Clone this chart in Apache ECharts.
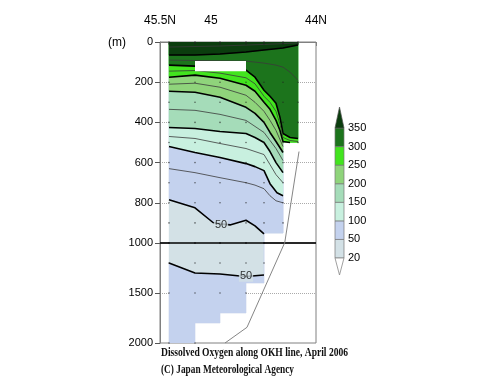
<!DOCTYPE html>
<html><head><meta charset="utf-8">
<script src="https://cdn.jsdelivr.net/npm/echarts@6/dist/echarts.min.js"></script>
<style>html,body{margin:0;padding:0;background:#fff}#c{width:500px;height:387px}</style>
</head><body><div id="c"></div>
<script>
// ---------------- DATA ----------------
// station positions along the OKH line (distance units on the x axis) and their deepest data (m)
const stationX = [9, 35, 60, 86, 104, 123, 138];
const stationBottom = [2000, 2000, 1800, 1700, 1400, 950, 500];
// observation depths shown as dots (m)
const sampleDepths = [0, 5, 10, 200, 300, 400, 500, 600, 700, 800, 900, 1000, 1200, 1500, 2000];
// latitude labels on the top axis
const latTickX = [9, 51, 156];
const latLabelX = [0, 51, 156];
const latLabels = ['45.5N', '45', '44N'];
// colour levels (micromol/kg)
const levels = [20, 50, 100, 150, 200, 250, 300, 350];
const bandColors = ['#d3e1e6', '#c4d2ee', '#c8f0df', '#a5dcb9', '#8fd47b', '#42e41e', '#1c741c', '#0b3d0e'];
// contour traces read from the section: [x, depth m]
const c375 = [[9,25],[60,20],[104,12],[138,5]];
const c350 = [[9,65],[35,65],[60,60],[86,50],[104,40],[123,30],[138,15]];
const c325 = [[9,90],[35,92],[86,95],[104,105],[116,115],[123,125],[130,150],[138,190]];
const c300 = [[9,115],[35,120],[60,130],[86,140],[95,175],[104,240],[110,270],[116,305],[120,375],[123,455],[130,475],[138,480]];
const c275 = [[9,145],[35,142],[60,155],[86,178],[95,208],[104,270],[110,300],[116,345],[120,410],[123,475],[130,490],[138,495]];
const c250 = [[9,175],[35,165],[60,180],[86,215],[95,245],[104,300],[110,335],[116,390],[120,440],[123,495],[130,500]];
const c225 = [[9,210],[35,205],[60,225],[86,265],[95,300],[104,345],[110,390],[116,440],[123,520]];
const c200 = [[9,245],[35,250],[60,275],[86,325],[95,355],[104,400],[110,450],[116,495],[123,550]];
const c175 = [[9,335],[35,340],[60,360],[86,390],[95,420],[104,450],[110,490],[116,530],[123,590]];
const c150 = [[9,425],[35,430],[60,445],[86,455],[95,475],[104,500],[110,545],[116,600],[123,650]];
const c125 = [[9,470],[35,480],[60,505],[86,530],[95,545],[104,560],[110,610],[116,660],[123,700]];
const c100 = [[9,520],[35,550],[60,575],[86,605],[95,620],[104,640],[110,705],[117,750],[123,765]];
const c75  = [[9,630],[35,650],[60,675],[86,700],[95,712],[104,730],[110,765],[116,790],[123,800]];
const c50  = [[9,785],[35,825],[53,898],[60,905],[70,910],[86,887],[95,915],[104,955]];
const c50deep = [[9,1200],[35,1300],[60,1310],[80,1330],[86,1335],[104,1320]];
// missing-data box [x1, x2, depth1, depth2]
const gapBox = [35, 86, 95, 145];
// bottom topography line [x, depth]
const topoLine = [[139,545],[125,990],[87,1843],[65,2000]];
// contour labels [x, depth, text]
const contourLabels = [[61, 912, '50'], [86, 1332, '50']];

// ---------------- GEOMETRY (derived) ----------------
const fillContours = [c50, c100, c150, c200, c250, c300, c350]; // region above -> bandColors[1..7]
const thickLines = [c350, c300, c250, c200, c150, c100, c50, c50deep];
const thinLines = [c375, c325, c275, c225, c175, c125, c75];

function fnOf(pts) {
  return x => {
    if (!pts) return Infinity;
    const n = pts.length;
    if (x < pts[0][0] - 1e-9 || x > pts[n-1][0] + 1e-9) return Infinity;
    for (let i = 0; i < n - 1; i++) {
      const [x1,d1] = pts[i], [x2,d2] = pts[i+1];
      if (x >= x1 - 1e-9 && x <= x2 + 1e-9) {
        const t = x2 === x1 ? 0 : (x - x1) / (x2 - x1);
        return d1 + Math.max(0, Math.min(1, t)) * (d2 - d1);
      }
    }
    return Infinity;
  };
}
function colXs(pts, xa, xb, B) {
  const xs = [xa, xb];
  if (pts) {
    pts.forEach(p => { if (p[0] > xa && p[0] < xb) xs.push(p[0]); });
    const last = pts[pts.length-1][0];
    if (last >= xa && last < xb) xs.push(last + 1e-6);
    for (let i = 0; i < pts.length - 1; i++) {
      const [x1,d1] = pts[i], [x2,d2] = pts[i+1];
      if ((d1 - B) * (d2 - B) < 0) {
        const x = x1 + (B - d1) / (d2 - d1) * (x2 - x1);
        if (x > xa && x < xb) xs.push(x);
      }
    }
  }
  return [...new Set(xs)].sort((a,b) => a - b);
}
// boundary (left -> right) of min(contour, column bottom) across all columns
function clampedEdge(pts) {
  const f = fnOf(pts), out = [];
  for (let c = 0; c < stationX.length - 1; c++) {
    const xa = stationX[c], xb = stationX[c+1];
    const B = Math.min(stationBottom[c], stationBottom[c+1]);
    colXs(pts, xa, xb, B).forEach(x => out.push([x, Math.min(f(x), B)]));
  }
  return out;
}
const x0 = stationX[0], xN = stationX[stationX.length - 1];
const bottomEdge = clampedEdge(null);
const polys = [];
polys.push({color: bandColors[0], pts: [[x0,0],[xN,0]].concat(bottomEdge.slice().reverse())});
polys.push({color: bandColors[1], pts: clampedEdge(c50deep).concat(bottomEdge.slice().reverse())});
fillContours.forEach((pts, k) => {
  polys.push({color: bandColors[k+1], pts: [[x0,0],[xN,0]].concat(clampedEdge(pts).reverse())});
});
const dots = [];
stationX.forEach((x, i) => sampleDepths.forEach(d => { if (d <= stationBottom[i]) dots.push([x, d]); }));

// ---------------- CHART ----------------
const chart = echarts.init(document.getElementById('c'), null, {renderer: 'canvas', width: 500, height: 387});
const FONT = 'Liberation Sans, Arial, sans-serif';
const FRAME = '#808080';

function fillSeries(g) {
  return {
    type: 'custom', xAxisIndex: g, yAxisIndex: g, clip: true, z: 2, silent: true, animation: false,
    data: polys.map((p, i) => [i]),
    renderItem: (params, api) => {
      const p = polys[params.dataIndex];
      return {type: 'polygon', shape: {points: p.pts.map(q => api.coord(q))},
        style: {fill: p.color, stroke: p.color, lineWidth: 0.4}};
    }
  };
}
function lineSeries(g, pts, thick) {
  return {type: 'line', xAxisIndex: g, yAxisIndex: g, data: pts, showSymbol: false, symbol: 'none',
    clip: true, silent: true, animation: false, z: 3,
    lineStyle: thick ? {color: '#000', width: 1.6} : {color: '#3a3a3a', width: 0.8}};
}
const series = [fillSeries(0), fillSeries(1)];
[0, 1].forEach(g => {
  thickLines.forEach(p => series.push(lineSeries(g, p, true)));
  thinLines.forEach(p => series.push(lineSeries(g, p, false)));
  series.push({type: 'scatter', xAxisIndex: g, yAxisIndex: g, data: dots, symbolSize: 1.6, z: 4, silent: true,
    animation: false, itemStyle: {color: '#222', opacity: 0.65}});
  series.push({type: 'line', xAxisIndex: g, yAxisIndex: g, data: topoLine, showSymbol: false, symbol: 'none',
    clip: true, silent: true, animation: false, z: 6, lineStyle: {color: '#777', width: 0.9},
    markLine: g === 0 ? {silent: true, symbol: 'none', animation: false, label: {show: false},
      lineStyle: {color: '#000', width: 1.6, type: 'solid'}, data: [{yAxis: 1000}]} : undefined});
  series.push({type: 'scatter', xAxisIndex: g, yAxisIndex: g, z: 7, silent: true, animation: false,
    data: contourLabels.filter(l => g === 0 ? l[1] < 1000 : l[1] > 1000), symbolSize: 0,
    label: {show: true, position: 'inside', formatter: p => p.data[2], color: '#000', fontSize: 11,
      fontFamily: FONT, backgroundColor: bandColors[0], padding: [0, 1]}});
});
series.push({type: 'custom', xAxisIndex: 0, yAxisIndex: 0, z: 5, silent: true, animation: false, clip: true,
  data: [gapBox],
  renderItem: (params, api) => {
    const p1 = api.coord([api.value(0), api.value(2)]), p2 = api.coord([api.value(1), api.value(3)]);
    return {type: 'rect', shape: {x: p1[0], y: p1[1], width: p2[0]-p1[0], height: p2[1]-p1[1]}, style: {fill: '#fff'}};
  }});

// colour bar (legend)
const cb = {x: 335, w: 9, y0: 258, step: 18.57, tipTop: 107, tipBot: 275};
const graphics = [];
for (let i = 0; i < levels.length - 1; i++) {
  const yb = cb.y0 - i * cb.step, yt = yb - cb.step;
  graphics.push({type: 'rect', shape: {x: cb.x, y: yt, width: cb.w, height: cb.step},
    style: {fill: bandColors[i], stroke: '#777', lineWidth: 0.7}});
}
const yTop = cb.y0 - (levels.length - 1) * cb.step;
graphics.push({type: 'polygon', shape: {points: [[cb.x, yTop], [cb.x + cb.w, yTop], [cb.x + cb.w/2, cb.tipTop]]},
  style: {fill: bandColors[7], stroke: '#555', lineWidth: 0.7}});
graphics.push({type: 'polygon', shape: {points: [[cb.x, cb.y0], [cb.x + cb.w, cb.y0], [cb.x + cb.w/2, cb.tipBot]]},
  style: {fill: '#fff', stroke: '#888', lineWidth: 0.8}});
levels.forEach((lv, i) => graphics.push({type: 'text', x: 348, y: cb.y0 - i * cb.step,
  style: {text: String(lv), font: '11px ' + FONT, fill: '#000', textVerticalAlign: 'middle', textAlign: 'left'}}));
graphics.push({type: 'text', x: 108, y: 43, style: {text: '(m)', font: '12px ' + FONT, fill: '#000', textVerticalAlign: 'middle'}});

// captions, condensed to the reference width
const ctx = document.createElement('canvas').getContext('2d');
const CAP_FONT = 'bold 12px "Liberation Serif", serif';
ctx.font = CAP_FONT;
[['Dissolved Oxygen along OKH line, April 2006', 353, 187], ['(C) Japan Meteorological Agency', 370, 133]].forEach(([t, y, w]) => {
  const m = ctx.measureText(t).width;
  graphics.push({type: 'text', x: 161, y: y, scaleX: w / m, originX: 0,
    style: {text: t, font: CAP_FONT, fill: '#111', textVerticalAlign: 'middle', textAlign: 'left'}});
});

const splitStyle = {show: true, showMinLine: false, showMaxLine: false, lineStyle: {color: '#aaa', type: 'dotted', width: 1}};
chart.setOption({
  animation: false,
  backgroundColor: '#fff',
  grid: [
    {left: 160, top: 42, width: 156, height: 201, show: true, borderColor: FRAME, borderWidth: 1, backgroundColor: 'transparent', containLabel: false, outerBoundsMode: 'none'},
    {left: 160, top: 243, width: 156, height: 100, show: true, borderColor: FRAME, borderWidth: 1, backgroundColor: 'transparent', containLabel: false, outerBoundsMode: 'none'}
  ],
  xAxis: [
    {gridIndex: 0, type: 'value', min: 0, max: 156, position: 'top', offset: 13,
      axisLine: {show: true, lineStyle: {color: FRAME}},
      axisTick: {show: true, inside: true, length: 4, customValues: latTickX, lineStyle: {color: FRAME}},
      axisLabel: {show: true, customValues: latLabelX, margin: 2, fontSize: 12, color: '#000', fontFamily: FONT,
        formatter: v => latLabels[latLabelX.indexOf(v)] || ''},
      splitLine: {show: false}},
    {gridIndex: 1, type: 'value', min: 0, max: 156, position: 'bottom',
      axisLine: {show: false}, axisTick: {show: false}, axisLabel: {show: false}, splitLine: {show: false}}
  ],
  yAxis: [
    {gridIndex: 0, type: 'value', min: 0, max: 1000, interval: 200, inverse: true,
      axisLine: {show: true, lineStyle: {color: FRAME}},
      axisTick: {show: true, length: 5, lineStyle: {color: '#555'}},
      axisLabel: {fontSize: 11, color: '#000', margin: 7, fontFamily: FONT, formatter: v => String(v)},
      splitLine: splitStyle},
    {gridIndex: 1, type: 'value', min: 1000, max: 2000, interval: 500, inverse: true,
      axisLine: {show: true, lineStyle: {color: FRAME}},
      axisTick: {show: true, length: 5, lineStyle: {color: '#555'}},
      axisLabel: {fontSize: 11, color: '#000', margin: 7, fontFamily: FONT, formatter: v => v === 1000 ? '' : String(v)},
      splitLine: splitStyle}
  ],
  graphic: graphics,
  series: series
});
</script>
</body></html>
